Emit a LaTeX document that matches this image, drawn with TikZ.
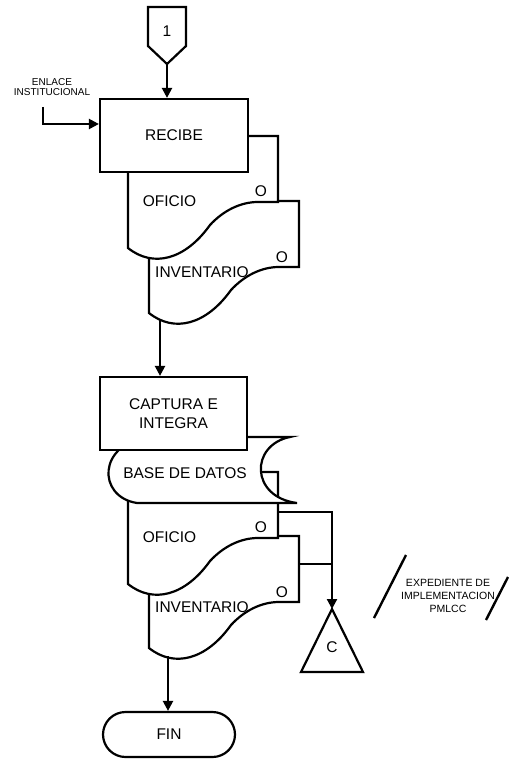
\documentclass[tikz,border=0pt]{standalone}
\usepackage{fontspec}
\setmainfont{Liberation Sans}
\usetikzlibrary{arrows.meta}

\tikzset{
  % document sheet with a wavy lower edge, origin at its top-left corner
  pics/docsheet/.style={code={
    \draw[fill=white] (0,0) -- (150,0) -- (150,66) -- (130,66)
      .. controls (112,66) and (95,75) .. (82,89)
      .. controls (57,124) and (25,132) .. (0,112) -- cycle;
  }},
  flow/.style={-{Triangle[length=10pt,width=10pt]}},
  procbox/.style={draw, fill=white, inner sep=0pt, align=center,
    font=\fontsize{15.5}{19.5}\selectfont},
  lbl/.style={inner sep=0pt, font=\fontsize{15.5}{18}\selectfont},
  note/.style={inner sep=0pt, align=center, font=\fontsize{10}{10.5}\selectfont},
  notewide/.style={inner sep=0pt, align=center, font=\fontsize{10.5}{13}\selectfont},
}

\begin{document}
\begin{tikzpicture}[x=1pt, y=-1pt, line width=2.2pt, line join=miter]
\useasboundingbox (0,0) rectangle (508,759);

% ---- off-page connector 1
\coordinate (c1tip) at (167,64);
\draw (148,7) -- (186,7) -- (186,46) -- (c1tip) -- (148,46) -- cycle;
\node[lbl] (conn1) at (167,31) {1};

% ---- first block: documents behind the process box
\pic at (149,201) {docsheet};
\pic at (128,136) {docsheet};
\node[procbox, minimum width=148pt, minimum height=73pt] (recibe) at (174,135.5) {RECIBE};

\node[lbl] (oficio1) at (169.5,201.5) {OFICIO};
\node[lbl] (oficio1o) at (261,191.5) {O};
\node[lbl] (inv1) at (202,272) {INVENTARIO};
\node[lbl] (inv1o) at (282,257) {O};

% ---- incoming link
\node[note] (enlace) at (52,87) {ENLACE\\INSTITUCIONAL};
\coordinate (enlstart) at (43,107);
\coordinate (enlbend) at (43,124);
\draw[flow] (enlstart) -- (enlbend) -- (enlbend -| recibe.west);

\draw[flow] (c1tip) -- (c1tip |- recibe.north);

% ---- second block
\pic at (149,536) {docsheet};
\pic at (128,472) {docsheet};

% stored data
\draw[fill=white] (150,437) -- (290,437)
  .. controls (250,445) and (250,497) .. (297,503) -- (137,503)
  .. controls (97,497) and (97,443) .. (150,437) -- cycle;
\node[lbl] (base) at (185,473) {BASE DE DATOS};

\node[procbox, minimum width=147pt, minimum height=73pt] (captura) at (173.5,413.5) {CAPTURA E\\INTEGRA};

\node[lbl] (oficio2) at (169.5,537) {OFICIO};
\node[lbl] (oficio2o) at (261,527) {O};
\node[lbl] (inv2) at (202,607) {INVENTARIO};
\node[lbl] (inv2o) at (282,592) {O};

\coordinate (inv1foot) at (160,319);
\draw[flow] (inv1foot) -- (inv1foot |- captura.north);

% ---- archive
\coordinate (triapex) at (332,609);
\draw (triapex) -- (363,672) -- (301,672) -- cycle;
\node[lbl] (archc) at (332,647) {C};

\coordinate (of2out) at (278,512);
\coordinate (inv2out) at (299,564);
\draw[flow] (of2out) -- (of2out -| triapex) -- (triapex);
\draw (inv2out) -- (inv2out -| triapex);

% ---- end
\node[draw, rounded corners=22.5pt, minimum width=132pt, minimum height=45pt,
  inner sep=0pt, font=\fontsize{15.5}{18}\selectfont] (fin) at (169,734.5) {FIN};
\coordinate (inv2foot) at (168,656);
\draw[flow] (inv2foot) -- (inv2foot |- fin.north);

% ---- file label
\draw[line width=2.4pt] (374,618) -- (406,555);
\draw[line width=2.4pt] (486,620) -- (508,577);
\node[notewide] (exped) at (448,596) {EXPEDIENTE DE\\IMPLEMENTACION\\PMLCC};

\end{tikzpicture}
\end{document}
